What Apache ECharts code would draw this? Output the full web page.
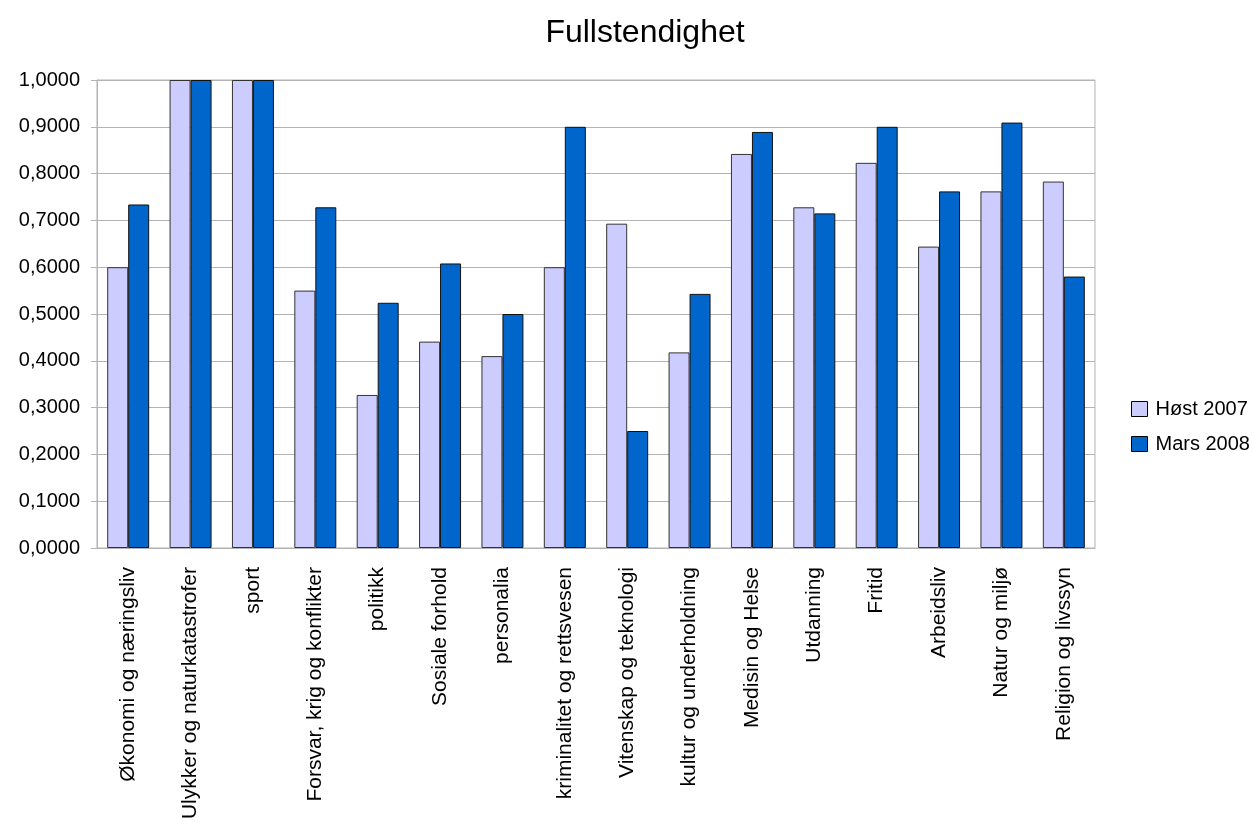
<!DOCTYPE html>
<html>
<head>
<meta charset="utf-8">
<script src="https://cdn.jsdelivr.net/npm/echarts@6/dist/echarts.min.js"></script>
<style>
  html, body { margin: 0; padding: 0; background: #fff; }
  #chart { width: 1253px; height: 825px; }
</style>
</head>
<body>
<div id="chart"></div>
<script>
const titleText = 'Fullstendighet';
const categories = [
  'Økonomi og næringsliv', 'Ulykker og naturkatastrofer', 'sport',
  'Forsvar, krig og konflikter', 'politikk', 'Sosiale forhold', 'personalia',
  'kriminalitet og rettsvesen', 'Vitenskap og teknologi', 'kultur og underholdning',
  'Medisin og Helse', 'Utdanning', 'Fritid', 'Arbeidsliv', 'Natur og miljø',
  'Religion og livssyn'
];
const seriesNames = ['Høst 2007', 'Mars 2008'];
const host2007 = [0.600, 1.000, 1.000, 0.550, 0.327, 0.441, 0.410, 0.600, 0.693, 0.418, 0.842, 0.728, 0.823, 0.644, 0.762, 0.783];
const mars2008 = [0.734, 1.000, 1.000, 0.728, 0.524, 0.608, 0.500, 0.900, 0.250, 0.543, 0.889, 0.715, 0.900, 0.762, 0.909, 0.580];
const seriesColors = ['#ccccff', '#0066cc'];

const font = 'Liberation Sans, Arial, sans-serif';
const gridGray = '#b3b3b3';

const chart = echarts.init(document.getElementById('chart'), null, { renderer: 'canvas' });

chart.setOption({
  animation: false,
  backgroundColor: '#ffffff',
  textStyle: { fontFamily: font },
  title: {
    text: titleText,
    left: 640,
    textAlign: 'center',
    top: 12,
    textStyle: { fontFamily: font, fontSize: 32, fontWeight: 'normal', color: '#000' }
  },
  legend: {
    orient: 'vertical',
    left: 1126,
    top: 394,
    padding: 5,
    itemWidth: 16,
    itemHeight: 15,
    itemGap: 15,
    icon: 'rect',
    textStyle: { fontFamily: font, fontSize: 20, color: '#000', padding: [0, 0, 0, 3] },
    data: seriesNames.map((n, i) => ({ name: n, itemStyle: { color: seriesColors[i], borderColor: '#000', borderWidth: 1 } }))
  },
  grid: {
    left: 97, right: 158, top: 80, bottom: 277,
    show: true, borderColor: gridGray, borderWidth: 1
  },
  xAxis: {
    type: 'category',
    data: categories,
    axisLine: { lineStyle: { color: gridGray } },
    axisTick: { alignWithLabel: true, interval: 0, length: 9, lineStyle: { color: gridGray } },
    axisLabel: {
      interval: 0,
      rotate: 90,
      margin: 19,
      fontFamily: font,
      fontSize: 21,
      color: '#000'
    }
  },
  yAxis: {
    type: 'value',
    min: 0, max: 1, interval: 0.1,
    axisLine: { show: true, lineStyle: { color: gridGray } },
    axisTick: { show: true, length: 6, lineStyle: { color: gridGray } },
    splitLine: { lineStyle: { color: gridGray } },
    axisLabel: {
      margin: 17,
      fontFamily: font,
      fontSize: 20,
      color: '#000',
      formatter: v => v.toFixed(4).replace('.', ',')
    }
  },
  series: [host2007, mars2008].map((d, i) => ({
    name: seriesNames[i],
    type: 'bar',
    data: d,
    barGap: '0%',
    barCategoryGap: '32.7%',
    itemStyle: { color: seriesColors[i], borderColor: i === 0 ? '#333' : '#111', borderWidth: 1 }
  }))
});
</script>
</body>
</html>
